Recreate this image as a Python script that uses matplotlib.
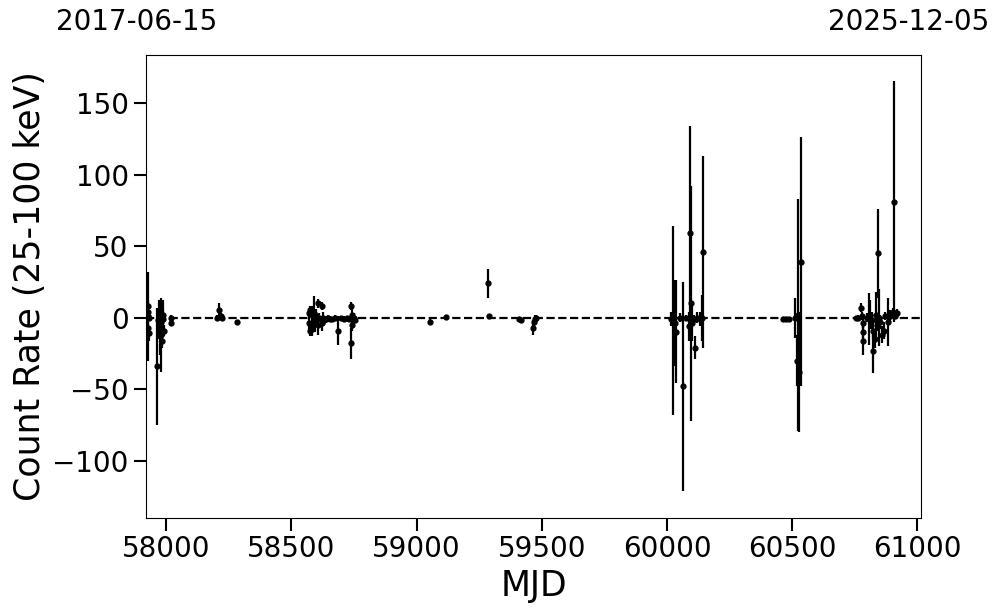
import numpy as np
import matplotlib
matplotlib.use("Agg")
import matplotlib.pyplot as plt

# light curve values
mjd = [57925, 57926, 57927, 57928, 57929, 57930,
       57964, 57968, 57970, 57972, 57975, 57978, 57980, 57983, 57985, 57988, 57990,
       58018, 58020,
       58203, 58212, 58220, 58224, 58282,
       58568, 58570, 58572, 58574, 58580, 58583, 58590, 58594, 58598, 58604,
       58606, 58611, 58620, 58622, 58626, 58630, 58636, 58644, 58653, 58663,
       58673, 58685, 58698, 58708, 58720, 58728, 58736, 58738, 58740, 58743,
       58748, 58753,
       59053, 59117, 59285, 59287, 59410, 59418, 59466, 59470, 59473, 59476,
       60016, 60024, 60032, 60036, 60052, 60064, 60076, 60088, 60092, 60096,
       60100, 60108, 60112, 60120, 60132, 60140, 60144,
       60463, 60475, 60487, 60511, 60519, 60523, 60527, 60535,
       60755, 60763, 60775, 60779, 60781, 60782, 60783, 60797, 60805, 60811,
       60819, 60823, 60824, 60831, 60835, 60839, 60843, 60847, 60851, 60859,
       60867, 60871, 60883, 60891, 60903, 60905, 60909, 60917]
rate = [1, 8, 4, -7, -11, 0,
        -34, -2, -5, 0, -8, -12, -3, -16, 2, -1, -9,
        0, -4,
        0, 5, 1, 0, -3,
        3, -4, -9, 5, 2, -8, 3, -2, 1, 10,
        -5, 0, 8, -4, 0, -2, -1, 0, -1, -1,
        0, -9, 0, -1, 0, -1, 8, -18, 2, -5,
        0, -2,
        -3, 0.5, 24, 1, -1, -1.5, -7, -3, -1, 0,
        -1, -2, -4, -10, 0, -48, 0, -6, 59, 10,
        -4, -1, -21, 0, -1, 0, 46,
        -1, -1, -1, 0, -30, 2, -38, 39,
        0, 0, 7, 1, -4, -10, -16, 0, -1, 2,
        -2, -9, -23, -15, 2, -5, 45, 0, -3, -12,
        -9, 1, -3, 1, 4, 81, 1, 3]
err = [31, 4, 3, 4, 5, 2,
       41, 8, 10, 12, 18, 26, 14, 5, 10, 6, 4,
       2, 2,
       2, 5, 2, 1, 1,
       4, 6, 4, 3, 6, 5, 12, 8, 5, 3,
       7, 3, 3, 5, 4, 3, 2, 2, 2, 1,
       2, 10, 1, 2, 1, 2, 3, 11, 5, 4,
       3, 2,
       2, 1, 10, 1, 1, 1, 5, 3, 3, 2,
       5, 66, 30, 36, 3, 73, 2, 10, 75, 82,
       12, 3, 8, 4, 5, 16, 67,
       1, 1, 1, 14, 18, 81, 42, 87,
       1, 2, 3, 3, 3, 4, 10, 3, 18, 10,
       6, 6, 16, 6, 16, 4, 31, 20, 5, 6,
       6, 3, 17, 4, 3, 84, 2, 3]

start_date = "2017-06-15"
end_date = "2025-12-05"

fig = plt.figure(figsize=(9.97, 6.13), dpi=100)
ax = fig.add_axes([146/997, 1 - 518/613, 775/997, 463/613])

ax.errorbar(mjd, rate, yerr=err, fmt="o", color="k", ms=3.5, elinewidth=1.6)
ax.axhline(0, color="k", ls="--", lw=1.6)

ax.set_xlim(57919, 61014)
ax.set_ylim(-140, 183.5)
ax.set_xticks([58000, 58500, 59000, 59500, 60000, 60500, 61000])
ax.set_yticks([-100, -50, 0, 50, 100, 150])
ax.tick_params(labelsize=20, length=9, width=1.5)
ax.set_xlabel("MJD", fontsize=25)
ax.set_ylabel("Count Rate (25-100 keV)", fontsize=25)

fig.text(137/997, 1 - 22/613, start_date, fontsize=20, ha="center", va="center")
fig.text(909/997, 1 - 22/613, end_date, fontsize=20, ha="center", va="center")

fig.savefig("out.png", dpi=100)
